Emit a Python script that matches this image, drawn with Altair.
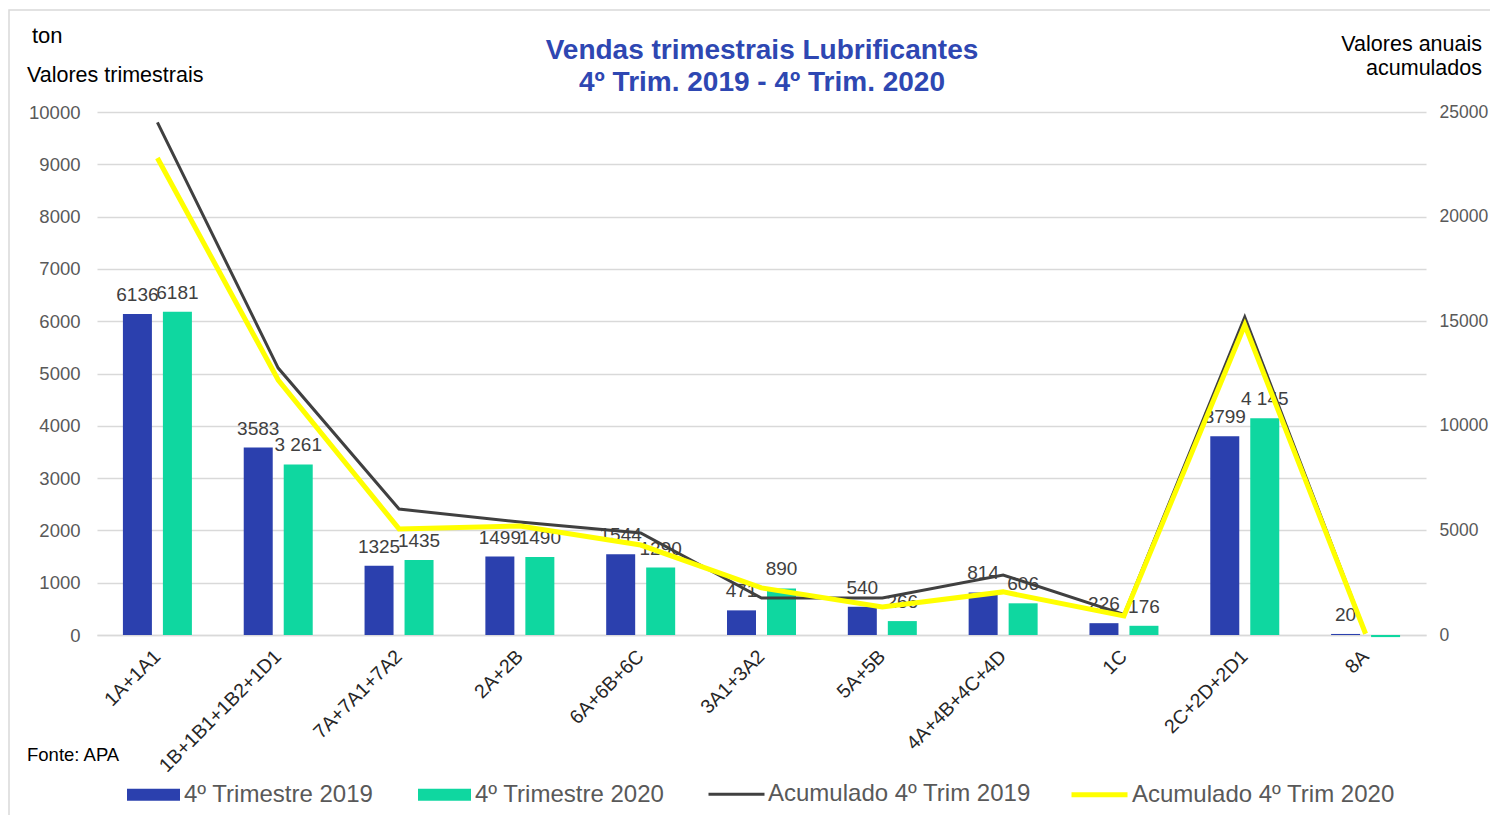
import altair as alt
import pandas as pd

categories = ["1A+1A1", "1B+1B1+1B2+1D1", "7A+7A1+7A2", "2A+2B", "6A+6B+6C",
              "3A1+3A2", "5A+5B", "4A+4B+4C+4D", "1C", "2C+2D+2D1", "8A"]
q4_2019 = [6136, 3583, 1325, 1499, 1544, 471, 540, 814, 226, 3799, 20]
q4_2020 = [6181, 3261, 1435, 1490, 1290, 890, 266, 606, 176, 4145, -40]
labels_2019 = ["6136", "3583", "1325", "1499", "1544", "471", "540", "814", "226", "3799", "20"]
labels_2020 = ["6181", "3 261", "1435", "1490", "1290", "890", "266", "606", "176", "4 145", ""]
acum_2019 = [24500, 12760, 6020, 5400, 4880, 1770, 1770, 2870, 980, 15200, 80]
acum_2020 = [22800, 12190, 5070, 5210, 4300, 2250, 1340, 2060, 910, 14820, 60]

s19 = "4º Trimestre 2019"
s20 = "4º Trimestre 2020"
a19 = "Acumulado 4º Trim 2019"
a20 = "Acumulado 4º Trim 2020"
title_lines = ["Vendas trimestrais Lubrificantes", "4º Trim. 2019 - 4º Trim. 2020"]

bars_df = pd.DataFrame({
    "cat": categories * 2,
    "serie": [s19] * len(categories) + [s20] * len(categories),
    "value": q4_2019 + q4_2020,
    "label": labels_2019 + labels_2020,
})
lines_df = pd.DataFrame({
    "cat": categories * 2,
    "serie": [a19] * len(categories) + [a20] * len(categories),
    "value": acum_2019 + acum_2020,
})

FONT = "Liberation Sans"
W, H = 1329, 523

x_enc = alt.X("cat:N", sort=categories,
              scale=alt.Scale(paddingInner=0, paddingOuter=0),
              axis=alt.Axis(title=None, labelAngle=-45, labelAlign="right", labelBaseline="middle",
                            labelFontSize=19.5, labelColor="#262626", labelFont=FONT,
                            labelPadding=18, ticks=False, domain=True, domainColor="#D9D9D9",
                            domainWidth=1.5, grid=False))
xoff = alt.XOffset("serie:N", scale=alt.Scale(paddingInner=0.275, paddingOuter=0.648))

y_left = alt.Y("value:Q", scale=alt.Scale(domain=[0, 10000], nice=False),
               axis=alt.Axis(title=None, values=list(range(0, 10001, 1000)), format="d", grid=True,
                             gridColor="#D9D9D9", gridWidth=1.5, domain=False, ticks=False,
                             labelFontSize=18.5, labelColor="#595959", labelFont=FONT,
                             labelPadding=17))

bars = alt.Chart(bars_df).mark_bar().encode(
    x=x_enc, xOffset=xoff, y=y_left,
    color=alt.Color("serie:N",
                    scale=alt.Scale(domain=[s19, s20], range=["#2B40AE", "#0FD7A0"]),
                    legend=alt.Legend(title=None, orient="none", direction="horizontal",
                                      legendX=30, legendY=656, padding=0,
                                      symbolType="M-1,-0.23H1V0.23H-1Z", symbolSize=2809,
                                      symbolStrokeWidth=0, labelFontSize=24, labelFont=FONT,
                                      labelColor="#595959", labelOffset=4, columnPadding=44,
                                      labelLimit=400)),
)

texts = alt.Chart(bars_df).mark_text(baseline="bottom", dy=-9, fontSize=19, font=FONT,
                                     color="#404040").encode(
    x=alt.X("cat:N", sort=categories), xOffset=xoff,
    y=alt.Y("value:Q"), text="label:N",
)

lines = alt.Chart(lines_df).mark_line().encode(
    x=alt.X("cat:N", sort=categories),
    y=alt.Y("value:Q", scale=alt.Scale(domain=[0, 25000], nice=False),
            axis=alt.Axis(title=None, orient="right", values=[0, 5000, 10000, 15000, 20000, 25000],
                          format="d", grid=False, domain=False, ticks=False, labelFontSize=17.5,
                          labelColor="#595959", labelFont=FONT, labelPadding=13)),
    stroke=alt.Stroke("serie:N",
                      scale=alt.Scale(domain=[a19, a20], range=["#404040", "#FFFF00"]),
                      legend=alt.Legend(title=None, orient="none", direction="horizontal",
                                        legendX=610, legendY=652, padding=0, symbolType="stroke",
                                        symbolSize=3136, symbolStrokeWidth=4,
                                        labelFontSize=24, labelFont=FONT, labelColor="#595959",
                                        labelOffset=2, columnPadding=30, labelLimit=400)),
    strokeWidth=alt.StrokeWidth("serie:N", scale=alt.Scale(domain=[a19, a20], range=[3, 5]),
                                legend=None),
)

ann_df = pd.DataFrame({"t": ["x"]})


def note(text, x, y, size, align="left", color="#000000", weight="normal"):
    return alt.Chart(ann_df).mark_text(text=text, align=align, baseline="alphabetic",
                                       fontSize=size, font=FONT, color=color,
                                       fontWeight=weight).encode(
        x=alt.value(x), y=alt.value(y))


frame = alt.Chart(ann_df).mark_rect(fill=None, stroke="#D9D9D9", strokeWidth=1.5).encode(
    x=alt.value(-88), x2=alt.value(1420), y=alt.value(-102), y2=alt.value(730))

ann = [
    note(title_lines[0], 665, -53, 28, align="center", color="#2E47B2", weight="bold"),
    note(title_lines[1], 665, -21, 28, align="center", color="#2E47B2", weight="bold"),
    note("ton", -65, -69, 22),
    note("Valores trimestrais", -70, -30, 21.5),
    note("Valores anuais", 1385, -61, 21.5, align="right"),
    note("acumulados", 1385, -37, 21.5, align="right"),
    note("Fonte: APA", -70, 649, 18.5),
]

left = alt.layer(bars, texts)
chart = alt.layer(left, lines).resolve_scale(y="independent")
chart = alt.layer(frame, chart, *ann).properties(
    width=W, height=H,
    autosize=alt.AutoSizeParams(type="none"),
    padding={"left": 89, "top": 104, "right": 64, "bottom": 180},
).configure_view(stroke=None)

chart.save("out.html", embed_options={"renderer": "svg", "actions": False})
